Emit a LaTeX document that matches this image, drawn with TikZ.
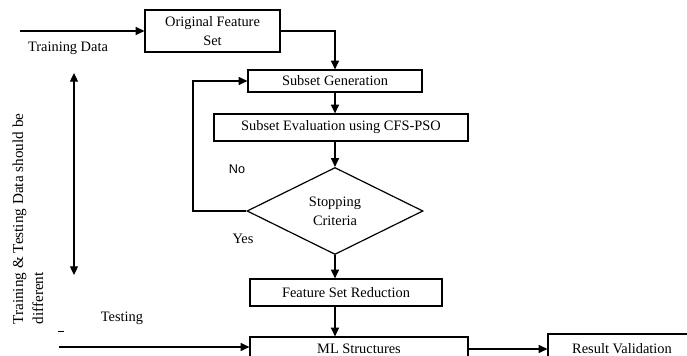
\documentclass[tikz,border=0pt]{standalone}
\usepackage{fontspec}
\setmainfont{Liberation Serif}
\newfontfamily\labelsans{Liberation Sans}
\usetikzlibrary{shapes.geometric,arrows.meta}

\begin{document}
\begin{tikzpicture}[x=0.75pt,y=-0.75pt,line width=0.9pt,
        >={Triangle[length=6.5pt,width=6pt]},
        font=\fontsize{10.8}{14.25}\selectfont,
        box/.style={draw,rectangle,inner sep=0pt,align=center}]
        \clip (0,0) rectangle (687,356);
        % flow boxes
        \node[box,minimum width=101.25pt,minimum height=31.5pt] (ofs) at (212.5,31) {Original Feature\\Set};
        \node[box,minimum width=130.5pt,minimum height=16.5pt] (sg) at (335,81) {Subset Generation};
        \node[box,minimum width=190.5pt,minimum height=20.25pt] (se) at (341,127.5) {Subset Evaluation using CFS-PSO};
        \node[draw,diamond,aspect=2,inner sep=0pt,align=center,minimum width=132pt,minimum height=65.25pt] (dia) at (335,211) {Stopping\\Criteria};
        \node[box,minimum width=144pt,minimum height=20.25pt] (fsr) at (346,292.5) {Feature Set Reduction};
        \node[box,minimum width=163.5pt,minimum height=18pt] (ml) at (359,349) {ML Structures};
        \node[box,minimum width=111pt,minimum height=22.5pt] (rv) at (622,349) {Result Validation};
        % labels
        \node (train) at (68,48) {Training Data};
        \node (test) at (122,318) {Testing};
        \node[font=\labelsans\fontsize{9.5}{11}\selectfont] (no) at (237,169) {No};
        \node (yes) at (243,239) {Yes};
        \node[rotate=90,align=left,anchor=west,inner sep=0pt,font=\fontsize{11.4}{15}\selectfont] (note) at (28,325) {Training \& Testing Data should be\\different};
        % helper points
        \coordinate (tin) at (20,31);
        \coordinate (tsin) at (59,347);
        \coordinate (loop) at (193,211);
        \coordinate (dtop) at (74,73);
        \coordinate (dbot) at (74,275);
        % connectors
        \draw[->] (tin) -- (ofs.west);
        \draw[->] (ofs.east) -| (sg.north);
        \draw[->] (sg.south) -- (sg.south |- se.north);
        \draw[->] (dia.north |- se.south) -- (dia.north);
        \draw[->] (dia.south) -- (dia.south |- fsr.north);
        \draw[->] (dia.south |- fsr.south) -- (dia.south |- ml.north);
        \draw[->] (dia.west) -- (loop) |- (sg.west);
        \draw[->] (tsin) -- (tsin -| ml.west);
        \draw[->] (ml.east) -- (rv.west);
        \draw[<->] (dtop) -- (dbot);
        \draw[line width=0.6pt] (58,331) -- (64,331);
\end{tikzpicture}
\end{document}
